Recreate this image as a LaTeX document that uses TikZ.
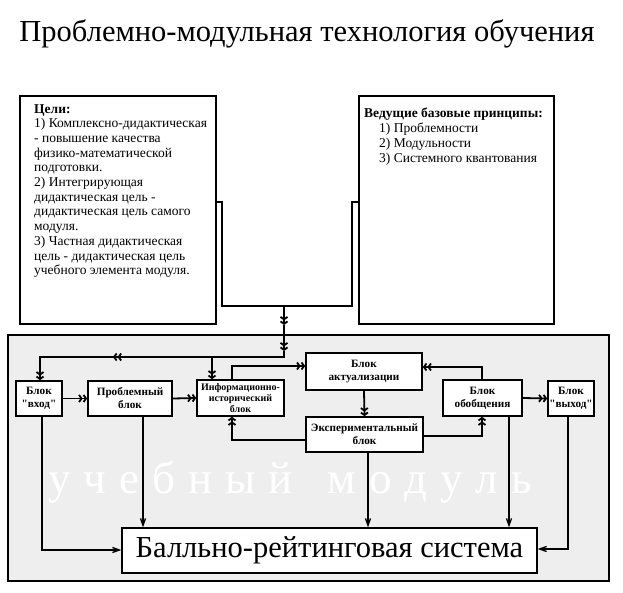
\documentclass[tikz,border=0pt]{standalone}
\usepackage{fontspec}
\setmainfont{Liberation Serif}[Ligatures=TeXOff]
\usetikzlibrary{arrows.meta}
\begin{document}
\begin{tikzpicture}[x=1pt,y=-1pt,
  bigbox/.style={draw,line width=1.5pt,fill=white,inner sep=0pt},
  blk/.style={draw,line width=1.7pt,fill=white,inner sep=0pt,align=center,
    font=\fontsize{11.2}{13}\selectfont\bfseries},
  conn/.style={line width=1.8pt},
  arr/.style={conn,-{Straight Barb[length=2.5pt,width=7pt]Straight Barb[length=2.5pt,width=7pt]}},
  thinarr/.style={line width=1.3pt,-{Straight Barb[length=7pt,width=5pt]}}]
\useasboundingbox (0,0) rectangle (623,593);

% title
\node[font=\fontsize{30.5}{33}\selectfont,inner sep=0] (title) at (307,34)
  {Проблемно-модульная технология обучения};

% top boxes
\node[bigbox,minimum width=196pt,minimum height=228pt] (goals) at (118,210) {};
\node[bigbox,minimum width=195pt,minimum height=228pt] (princ) at (456.5,210) {};
\node[anchor=north west,align=left,inner sep=0,font=\fontsize{13.5}{14.7}\selectfont] (goalstxt) at (34,104)
  {\textbf{Цели:}\\
   1) Комплексно-дидактическая\\
   - повышение качества\\
   физико-математической\\
   подготовки.\\
   2) Интегрирующая\\
   дидактическая цель -\\
   дидактическая цель самого\\
   модуля.\\
   3) Частная дидактическая\\
   цель - дидактическая цель\\
   учебного элемента модуля.};
\node[anchor=north west,align=left,inner sep=0,font=\fontsize{13.5}{15}\selectfont] (princtxt) at (364,108)
  {\textbf{Ведущие базовые принципы:}\\
   \hspace*{15pt}1) Проблемности\\
   \hspace*{15pt}2) Модульности\\
   \hspace*{15pt}3) Системного квантования};

% module area
\node[draw,line width=1.5pt,fill=gray!13,inner sep=0,minimum width=601pt,minimum height=246pt] (module) at (308.5,458) {};
\node[text=white,inner sep=0,font=\fontsize{45}{45}\selectfont] (wm) at (290,482)
  {у\hspace{13pt}ч\hspace{13pt}е\hspace{13pt}б\hspace{13pt}н\hspace{13pt}ы\hspace{13pt}й\hspace{35pt}м\hspace{13pt}о\hspace{13pt}д\hspace{13pt}у\hspace{13pt}л\hspace{13pt}ь};

% blocks
\node[blk,minimum width=46pt,minimum height=35pt] (vkhod) at (39,398.5) {Блок\\"вход"};
\node[blk,minimum width=84pt,minimum height=35pt] (probl) at (130,398.5) {Проблемный\\блок};
\node[blk,minimum width=87pt,minimum height=36pt,font=\fontsize{10}{11}\selectfont\bfseries] (info) at (240.5,398) {Информационно-\\исторический\\блок};
\node[blk,minimum width=116pt,minimum height=37pt] (act) at (364,371.5) {Блок\\актуализации};
\node[blk,minimum width=117pt,minimum height=35pt] (exp) at (364.5,434.5) {Экспериментальный\\блок};
\node[blk,minimum width=79pt,minimum height=36pt] (obob) at (482.5,398) {Блок\\обобщения};
\node[blk,minimum width=46pt,minimum height=35pt] (vykhod) at (571,398.5) {Блок\\"выход"};
\node[draw,line width=1.3pt,fill=white,inner sep=0,minimum width=415pt,minimum height=45pt,
  font=\fontsize{30.5}{33}\selectfont] (ball) at (329.5,550.5) {Балльно-рейтинговая система};

% top connector
\coordinate (ga) at (222,202);
\coordinate (gb) at (222,306);
\coordinate (t) at (284,306);
\coordinate (pb) at (352,306);
\coordinate (pa) at (352,202);
\coordinate (t1) at (284,325);
\coordinate (t2) at (284,351);
\coordinate (m) at (284,357);
\coordinate (ml) at (113,357);
\coordinate (ml2) at (116,357);
\coordinate (mv) at (40,357);
\coordinate (mi) at (212,357);
\draw[conn] (goals.east |- ga) -- (ga) -- (gb) -- (pb) -- (pa) -- (princ.west |- pa);
\draw[arr] (t) -- (t1);
\draw[arr] (t1) -- (t2);
\draw[conn] (t2) -- (m) -- (ml2);
\draw[arr] (m) -- (ml);
\draw[arr] (ml2) -- (mv) -- (mv |- vkhod.north);
\draw[arr] (mi) -- (mi |- info.north);

% block connectors
\coordinate (i1) at (232,366);
\coordinate (e1) at (232,440);
\coordinate (e2) at (482,436);
\coordinate (o1) at (482,367);
\draw[arr] (vkhod.east) -- (probl.west);
\draw[arr] (probl.east) -- (info.west);
\draw[arr] (i1 |- info.north) -- (i1) -- (i1 -| act.west);
\draw[arr] (act.south) -- (exp.north);
\draw[arr] (e1 -| exp.west) -- (e1) -- (e1 |- info.south);
\draw[arr] (e2 -| exp.east) -- (e2) -- (e2 |- obob.south);
\draw[arr] (o1 |- obob.north) -- (o1) -- (o1 -| act.east);
\draw[arr] (obob.east) -- (vykhod.west);

% to rating system
\coordinate (b1) at (42,550);
\coordinate (b2) at (143,500);
\coordinate (b3) at (368,500);
\coordinate (b4) at (509,500);
\coordinate (b5) at (568,549);
\draw[thinarr] (b1 |- vkhod.south) -- (b1) -- (b1 -| ball.west);
\draw[thinarr] (b2 |- probl.south) -- (b2 |- ball.north);
\draw[thinarr] (b3 |- exp.south) -- (b3 |- ball.north);
\draw[thinarr] (b4 |- obob.south) -- (b4 |- ball.north);
\draw[thinarr] (b5 |- vykhod.south) -- (b5) -- (b5 -| ball.east);
\end{tikzpicture}
\end{document}
